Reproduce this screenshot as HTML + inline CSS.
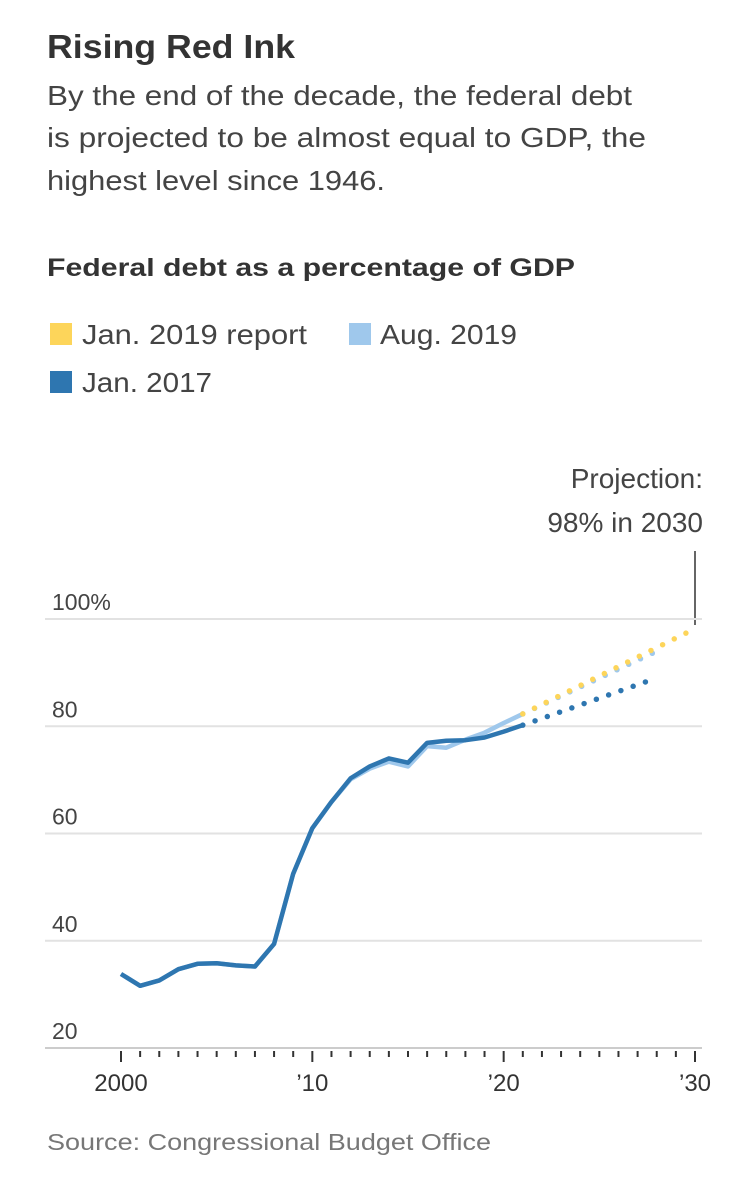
<!DOCTYPE html>
<html><head><meta charset="utf-8"><style>
html,body{margin:0;padding:0;background:#fff;}
svg{display:block;font-family:"Liberation Sans Narrow","Liberation Sans",sans-serif;}
</style></head><body>
<svg id="chart" width="731" height="1187" viewBox="0 0 731 1187">
<text x="47" y="58" font-size="33" font-weight="bold" fill="#333" textLength="248" lengthAdjust="spacingAndGlyphs">Rising Red Ink</text>
<g font-size="28" fill="#444">
<text x="47" y="105" textLength="585" lengthAdjust="spacingAndGlyphs">By the end of the decade, the federal debt</text>
<text x="47" y="147" textLength="599" lengthAdjust="spacingAndGlyphs">is projected to be almost equal to GDP, the</text>
<text x="47" y="190" textLength="338" lengthAdjust="spacingAndGlyphs">highest level since 1946.</text>
</g>
<text x="47" y="276" font-size="25" font-weight="bold" fill="#333" textLength="528" lengthAdjust="spacingAndGlyphs">Federal debt as a percentage of GDP</text>
<g font-size="28" fill="#444">
<rect x="50" y="323" width="22" height="22" fill="#fdd55a"/>
<text x="82" y="344" textLength="225" lengthAdjust="spacingAndGlyphs">Jan. 2019 report</text>
<rect x="349" y="323" width="22" height="22" fill="#9fc8ec"/>
<text x="380" y="344" textLength="137" lengthAdjust="spacingAndGlyphs">Aug. 2019</text>
<rect x="50" y="371" width="22" height="22" fill="#2e76b0"/>
<text x="82" y="392" textLength="130" lengthAdjust="spacingAndGlyphs">Jan. 2017</text>
</g>
<g font-size="28" fill="#444" text-anchor="end">
<text x="703" y="488">Projection:</text>
<text x="703" y="532">98% in 2030</text>
</g>
<line x1="695" y1="551" x2="695" y2="625" stroke="#333" stroke-width="1.5"/>
<g id="grid"></g><g id="series"></g>
<text x="47" y="1150" font-size="23" fill="#777" textLength="444" lengthAdjust="spacingAndGlyphs">Source: Congressional Budget Office</text>
</svg>
<script>
const years=[2000,2001,2002,2003,2004,2005,2006,2007,2008,2009,2010,2011,2012,2013,2014,2015,2016,2017,2018,2019,2020,2021];
const jan2017=[33.8,31.6,32.6,34.7,35.7,35.8,35.4,35.2,39.4,52.5,61.0,65.9,70.3,72.5,74.0,73.2,76.9,77.3,77.4,77.9,79.0,80.2];
const aug2019=[33.8,31.6,32.6,34.7,35.7,35.8,35.4,35.2,39.4,52.5,61.0,65.9,70.1,72.1,73.4,72.5,76.3,76.0,77.5,78.8,80.6,82.3];
const projYears=[2021,2030];
const projJan2019=[82.3,98.2];
const projAug2019Years=[2021,2028];
const projAug2019=[82.3,94.0];
const projJan2017Years=[2021,2028];
const projJan2017=[80.2,89.0];
const yTicks=[20,40,60,80,100];
const yTickLabels=["20","40","60","80","100%"];
const xMajor=[2000,2010,2020,2030];
const xMajorLabels=["2000","’10","’20","’30"];

const NS="http://www.w3.org/2000/svg";
const X=y=>121+(y-2000)*(695-121)/30;
const Y=v=>1048-(v-20)*(1048-619)/80;
function mk(tag,attrs,parent){const e=document.createElementNS(NS,tag);for(const k in attrs)e.setAttribute(k,attrs[k]);parent.appendChild(e);return e;}
const grid=document.getElementById('grid'),ser=document.getElementById('series');
yTicks.forEach((v,i)=>{
  const l=mk('line',{x1:45,x2:702,y1:Y(v),y2:Y(v),stroke:i===0?'#ccc':'#e2e2e2','stroke-width':2},grid);
  
  
  const t=mk('text',{x:52,y:Y(v)-9,'font-size':23,fill:'#444'},grid);t.textContent=yTickLabels[i];
  
  
});
for(let y=2000;y<=2030;y++){
  const maj=xMajor.includes(y);
  const l=mk('line',{x1:X(y),x2:X(y),y1:1051,y2:maj?1062:1057,stroke:'#333','stroke-width':2},grid);
  
  
}
xMajor.forEach((y,i)=>{
  const t=mk('text',{x:X(y),y:1091,'font-size':24,fill:'#333','text-anchor':'middle'},grid);t.textContent=xMajorLabels[i];
  
  
});
function pts(xs,vs){return xs.map((y,i)=>X(y)+','+Y(vs[i])).join(' ');}
function dotted(xs,vs,color,name){
  const p=mk('polyline',{points:pts(xs,vs),fill:'none',stroke:color,'stroke-width':5.5,'stroke-linecap':'round','stroke-dasharray':'0 13'},ser);
  
  
}
const a=mk('polyline',{points:pts(years,aug2019),fill:'none',stroke:'#9fc8ec','stroke-width':4.5,'stroke-linejoin':'round'},ser);


dotted(projAug2019Years,projAug2019,'#9fc8ec','projection-aug-2019');
dotted(projYears,projJan2019,'#fdd55a','projection-jan-2019');
dotted(projJan2017Years,projJan2017,'#2e76b0','projection-jan-2017');
const j=mk('polyline',{points:pts(years,jan2017),fill:'none',stroke:'#2e76b0','stroke-width':4.5,'stroke-linejoin':'round'},ser);


</script>
</body></html>
